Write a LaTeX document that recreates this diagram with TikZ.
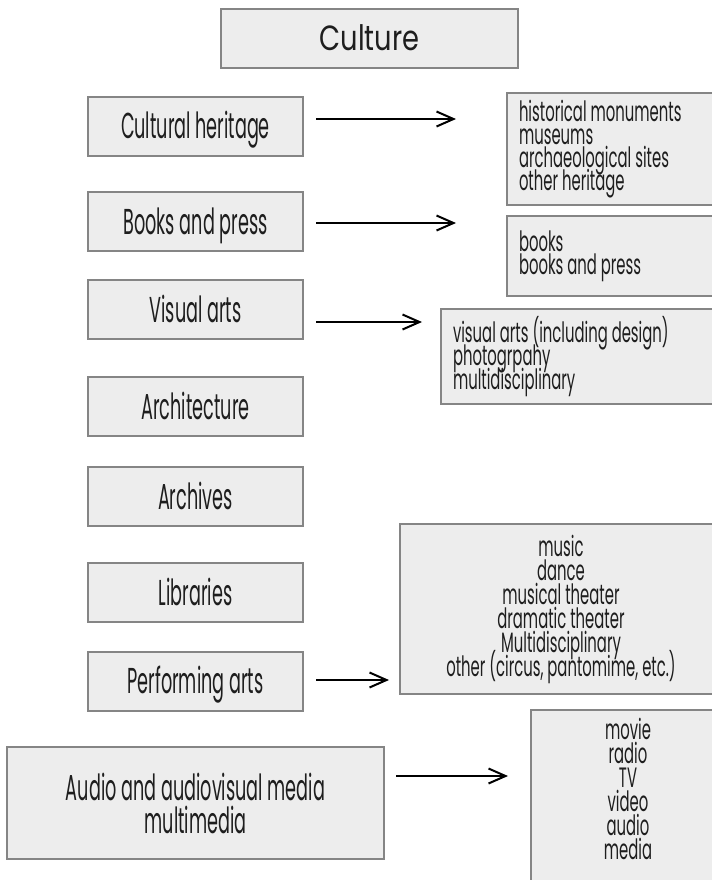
\documentclass[tikz,border=0pt]{standalone}
\usepackage{fontspec}
\setmainfont{Poppins}
\newfontfamily\cuCond{Poppins}[FakeStretch=0.49]
\newfontfamily\cuList{Poppins}[FakeStretch=0.53]
\newfontfamily\cuTitle{Poppins}[FakeStretch=0.78]
\newcommand\cuTight{\setlength{\lineskiplimit}{-100pt}\setlength{\lineskip}{0pt}}
\usepackage{tikz}
\usetikzlibrary{arrows.meta}
\definecolor{cuFill}{HTML}{EDEDED}
\definecolor{cuLine}{HTML}{858585}
\definecolor{cuText}{HTML}{1E1E1E}
\tikzset{
  cunode/.style={
    draw=cuLine, fill=cuFill, line width=1pt, text=cuText, inner sep=0pt
  },
  topbox/.style={cunode, minimum width=148.5pt, minimum height=29.5pt,
    text height=12pt, text depth=0pt, font=\cuTitle\fontsize{17.5}{20}\selectfont},
  catbase/.style={cunode, minimum width=107.5pt, minimum height=29.5pt,
    align=center, font=\cuCond\fontsize{18}{16.5}\selectfont\cuTight},
  catbox/.style={catbase, text height=12.5pt, text depth=0pt},
  listbox/.style={cunode, inner xsep=6pt, align=flush left,
    font=\cuList\fontsize{14}{11.6}\selectfont\cuTight},
  listcenter/.style={cunode, align=flush center,
    font=\cuList\fontsize{14}{12}\selectfont\cuTight},
  conn/.style={-{Straight Barb[length=8.5pt,width=7.5pt]}, line width=1pt, black}
}

\begin{document}
\begin{tikzpicture}[x=0.5pt, y=-0.5pt]
  \clip (0,0) rectangle (712,880);
  \fill[white] (0,0) rectangle (712,880);
  % top
  \node[topbox] (culture) at (369.5,38.5) {Culture};
  % left column
  \node[catbox] (heritage) at (195.5,126) {Cultural heritage};
  \node[catbox] (books) at (195.5,221.5) {Books and press};
  \node[catbox] (visual) at (195.5,309.5) {Visual arts};
  \node[catbox] (architecture) at (195.5,406.5) {Architecture};
  \node[catbox] (archives) at (195.5,496.5) {Archives};
  \node[catbox] (libraries) at (195.5,592.5) {Libraries};
  \node[catbox] (performing) at (195.5,681) {Performing arts};
  \node[catbase, minimum width=188.5pt, minimum height=56pt] (audio) at (195.5,803)
    {Audio and audiovisual media\\multimedia};
  % right column
  \node[listbox, text width=99.5pt, minimum height=56pt] (heritagelist) at (618.5,149)
    {historical monuments\\museums\\archaeological sites\\other heritage};
  \node[listbox, text width=99.5pt, minimum height=40pt] (bookslist) at (618.5,256)
    {books\\books and press};
  \node[listbox, text width=132.5pt, minimum height=47.5pt] (visuallist) at (585.5,356.5)
    {visual arts (including design)\\photogrpahy\\multidisciplinary};
  \node[listcenter, minimum width=161pt, minimum height=85pt] (performinglist) at (561,609)
    {music\\dance\\musical theater\\dramatic theater\\Multidisciplinary\\other (circus, pantomime, etc.)};
  \node[listcenter, minimum width=97pt, inner ysep=4pt, text depth=14pt, anchor=north] (medialist) at (628,709)
    {movie\\radio\\TV\\video\\audio\\media};
  % arrows
  \draw[conn, shorten <=6pt, shorten >=25pt] ([yshift=3.5pt]heritage.east) -- ([yshift=3.5pt]heritage.east -| heritagelist.west);
  \draw[conn, shorten <=6pt, shorten >=25pt] ([yshift=-0.75pt]books.east) -- ([yshift=-0.75pt]books.east -| bookslist.west);
  \draw[conn, shorten <=6pt, shorten >=9pt] ([yshift=-6.25pt]visual.east) -- ([yshift=-6.25pt]visual.east -| visuallist.west);
  \draw[conn, shorten <=6pt, shorten >=5pt] ([yshift=0.5pt]performing.east) -- ([yshift=0.5pt]performing.east -| performinglist.west);
  \draw[conn, shorten <=5.5pt, shorten >=11pt] ([yshift=13.5pt]audio.east) -- ([yshift=13.5pt]audio.east -| medialist.west);
\end{tikzpicture}
\end{document}
